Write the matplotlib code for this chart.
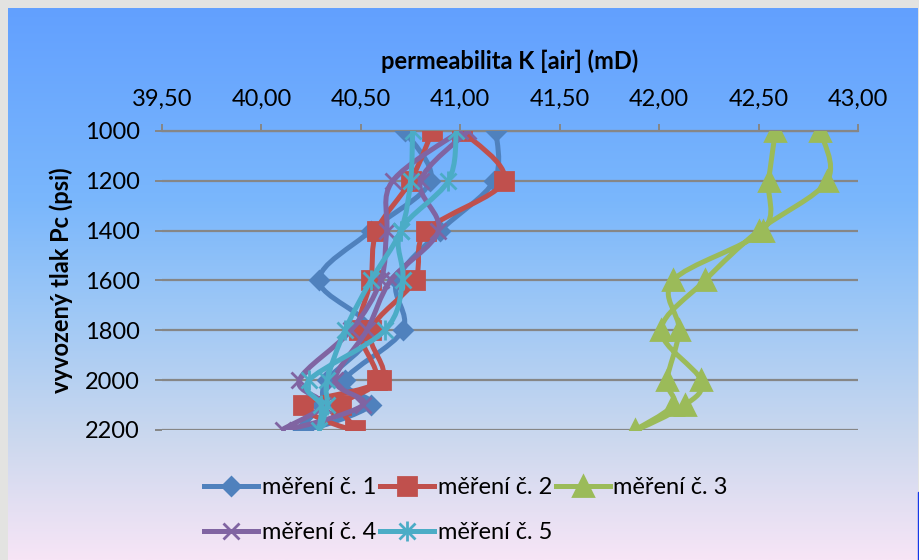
import numpy as np
import matplotlib
matplotlib.use("Agg")
import matplotlib.pyplot as plt
from matplotlib.path import Path
from matplotlib.patches import PathPatch, Rectangle
from matplotlib.lines import Line2D
from matplotlib.legend_handler import HandlerTuple
from matplotlib.ticker import FuncFormatter
from matplotlib.colors import LinearSegmentedColormap

# pressure is raised 1000 -> 2200 psi and then lowered back to 1000 psi
pressure = [1000, 1200, 1400, 1600, 1800, 2000, 2100, 2200,
            2100, 2000, 1800, 1600, 1400, 1200, 1000]

# permeability K [air] (mD) for each measurement
k1 = [41.18, 41.17, 40.90, 40.68, 40.71, 40.42, 40.55, 40.21,
      40.30, 40.33, 40.55, 40.29, 40.55, 40.85, 40.72]
k2 = [41.01, 41.22, 40.83, 40.77, 40.55, 40.60, 40.21, 40.47,
      40.40, 40.58, 40.49, 40.55, 40.58, 40.75, 40.86]
k3 = [42.81, 42.845, 42.50, 42.23, 42.01, 42.21, 42.13, 41.88,
      42.07, 42.04, 42.10, 42.07, 42.52, 42.55, 42.585]
k4 = [41.04, 40.80, 40.89, 40.65, 40.53, 40.37, 40.51, 40.11,
      40.31, 40.19, 40.45, 40.60, 40.63, 40.66, 41.00]
k5 = [40.98, 40.94, 40.70, 40.71, 40.62, 40.24, 40.30, 40.29,
      40.33, 40.33, 40.42, 40.55, 40.70, 40.75, 40.76]

labels = ["měření č. 1", "měření č. 2", "měření č. 3", "měření č. 4", "měření č. 5"]
x_ticks = [39.5, 40.0, 40.5, 41.0, 41.5, 42.0, 42.5, 43.0]
y_ticks = [1000, 1200, 1400, 1600, 1800, 2000, 2200]

colors = ["#4F81BD", "#C0504D", "#9BBB59", "#8064A2", "#4BACC6"]
markers = [("D", 9.5), ("s", 13), ("^", 14), ("x", 12), ("x", 12)]

plt.rcParams['font.family'] = ['Lato', 'DejaVu Sans']
FS = 17


def smooth_path(x, y):
    # Catmull-Rom style bezier through the points (like Excel smoothed lines)
    p = np.column_stack([x, y]).astype(float)
    ext = np.vstack([p[0], p, p[-1]])
    verts = [p[0]]
    codes = [Path.MOVETO]
    for i in range(len(p) - 1):
        a, b, c, d = ext[i], ext[i + 1], ext[i + 2], ext[i + 3]
        verts += [b + (c - a) / 6.0, c - (d - b) / 6.0, c]
        codes += [Path.CURVE4] * 3
    return Path(verts, codes)


fig = plt.figure(figsize=(9.2, 5.6), dpi=100)
fig.patch.set_facecolor("#e3e3e1")

# gradient chart background
bg = fig.add_axes([8 / 920, 0, 910 / 920, 552 / 560])
grad = LinearSegmentedColormap.from_list("bg", [
    (0.00, (98 / 255, 160 / 255, 255 / 255)),
    (0.35, (122 / 255, 183 / 255, 252 / 255)),
    (0.55, (158 / 255, 200 / 255, 246 / 255)),
    (0.78, (203 / 255, 216 / 255, 238 / 255)),
    (1.00, (247 / 255, 229 / 255, 246 / 255)),
])
bg.imshow(np.linspace(0, 1, 256).reshape(-1, 1), aspect="auto", cmap=grad,
          extent=[0, 1, 0, 1])
bg.set_axis_off()
fig.patches.append(Rectangle((918 / 920, 0), 2 / 920, 68 / 560,
                             transform=fig.transFigure, color="#1638e8"))

ax = fig.add_axes([162 / 920, 1 - 430 / 560, 696 / 920, 299 / 560])
ax.patch.set_alpha(0)

series = [k1, k2, k3, k4, k5]
handles = []
for i, (k, c, (m, ms)) in enumerate(zip(series, colors, markers)):
    z = 3 + i
    ax.add_patch(PathPatch(smooth_path(k, pressure), fill=False, edgecolor=c,
                           lw=3.6, joinstyle="round", capstyle="round", zorder=z))
    ax.plot(k, pressure, ls="none", marker=m, ms=ms, color=c,
            mew=2.0, zorder=z)
    h = Line2D([], [], color=c, lw=3.6, marker=m, ms=ms, mew=2.0)
    if i == 4:
        # asterisk = x plus a vertical stroke
        ax.plot(k, pressure, ls="none", marker="|", ms=ms * 1.15, color=c,
                mew=2.0, zorder=z)
        h = (h, Line2D([], [], color=c, lw=0, marker="|", ms=ms * 1.15, mew=2.0))
    handles.append(h)

ax.set_xlim(39.5, 43.0)
ax.set_ylim(2200, 1000)
ax.xaxis.tick_top()
ax.xaxis.set_label_position("top")
ax.set_xticks(x_ticks)
ax.set_yticks(y_ticks)
ax.xaxis.set_major_formatter(FuncFormatter(lambda v, _: f"{v:.2f}".replace(".", ",")))
ax.yaxis.grid(True, color="#868686", lw=1.6)
ax.set_axisbelow(True)
for s in ["left", "right", "bottom"]:
    ax.spines[s].set_visible(False)
ax.spines["top"].set_color("#868686")
ax.spines["top"].set_linewidth(1.6)
ax.tick_params(axis="x", direction="out", length=5, width=1.4, color="#868686",
               pad=10, labelsize=FS)
ax.tick_params(axis="y", direction="out", length=5, width=1.4, color="#868686",
               pad=11, labelsize=FS)

ax.set_xlabel("permeabilita K [air] (mD)", fontsize=FS, fontweight="bold")
ax.set_ylabel("vyvozený tlak Pc (psi)", fontsize=FS, fontweight="bold")
ax.xaxis.set_label_coords(0.5, (430 - 69) / 299)
ax.yaxis.set_label_coords((73 - 162) / 696, 0.5)

# row-major order in a 3 column legend
order = [0, 3, 1, 4, 2]
fig.legend([handles[j] for j in order], [labels[j] for j in order],
           ncol=3, loc="center", bbox_to_anchor=(466 / 920, 1 - 510 / 560),
           frameon=False, fontsize=FS, handlelength=2.3, handletextpad=0.15,
           columnspacing=0.15, labelspacing=1.0, borderpad=0,
           handler_map={tuple: HandlerTuple(ndivide=1)})

fig.savefig("out.png", dpi=100, facecolor=fig.get_facecolor())
